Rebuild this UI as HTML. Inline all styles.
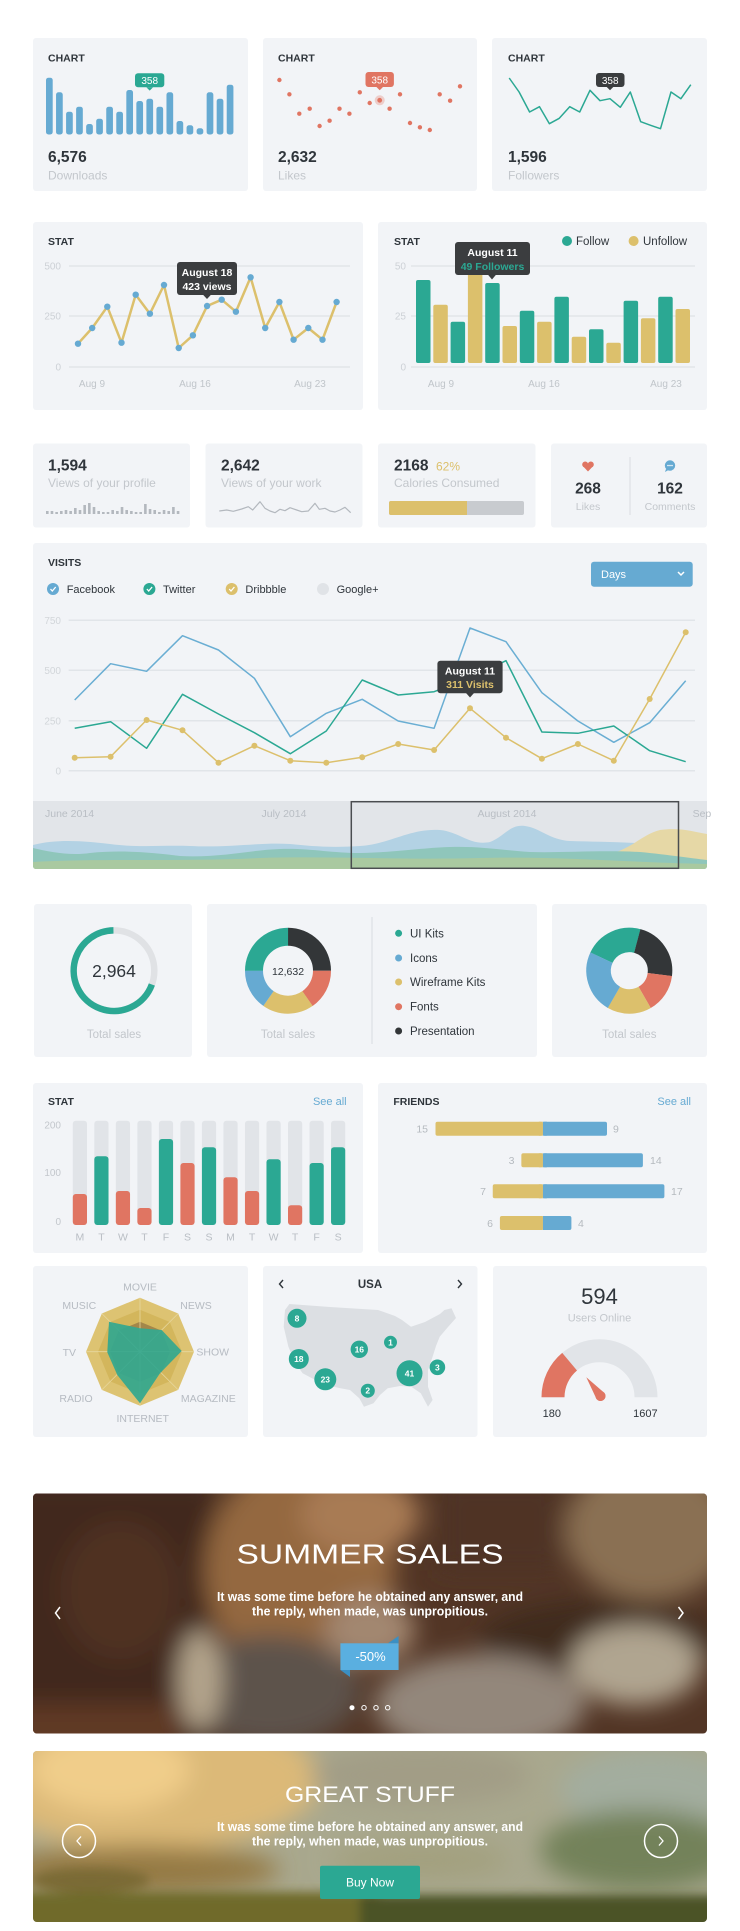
<!DOCTYPE html>
<html><head><meta charset="utf-8">
<style>
html,body{margin:0;padding:0;background:#fff;}
svg{display:block;}
text{font-family:"Liberation Sans",sans-serif;}
</style></head><body>
<svg width="740" height="1931" viewBox="0 0 740 1931" xmlns="http://www.w3.org/2000/svg">
<defs>
 <filter id="bl" x="-50%" y="-50%" width="200%" height="200%"><feGaussianBlur stdDeviation="12"/></filter>
 <filter id="bl2" x="-50%" y="-50%" width="200%" height="200%"><feGaussianBlur stdDeviation="5"/></filter>
 <clipPath id="cb1"><rect x="33" y="1493.5" width="674" height="240" rx="4"/></clipPath>
 <clipPath id="cb2"><rect x="33" y="1751" width="674" height="171" rx="4"/></clipPath>
 <clipPath id="cv"><rect x="33" y="543" width="674" height="326" rx="3"/></clipPath>
</defs>

<!-- ============ CARDS ============ -->
<g fill="#f2f4f7">
 <rect x="33" y="38" width="215" height="153" rx="3"/>
 <rect x="263" y="38" width="214" height="153" rx="3"/>
 <rect x="492" y="38" width="215" height="153" rx="3"/>
 <rect x="33" y="222" width="330" height="188" rx="3"/>
 <rect x="378" y="222" width="329" height="188" rx="3"/>
 <rect x="33" y="443.5" width="157" height="84" rx="3"/>
 <rect x="205.5" y="443.5" width="157" height="84" rx="3"/>
 <rect x="378" y="443.5" width="157.5" height="84" rx="3"/>
 <rect x="551" y="443.5" width="156" height="84" rx="3"/>
 <rect x="33" y="543" width="674" height="326" rx="3"/>
 <rect x="34" y="904" width="158" height="153" rx="3"/>
 <rect x="207" y="904" width="330" height="153" rx="3"/>
 <rect x="552" y="904" width="155" height="153" rx="3"/>
 <rect x="33" y="1083" width="330" height="170" rx="3"/>
 <rect x="378" y="1083" width="329" height="170" rx="3"/>
 <rect x="33" y="1266" width="215" height="171" rx="3"/>
 <rect x="263" y="1266" width="214.5" height="171" rx="3"/>
 <rect x="493" y="1266" width="214" height="171" rx="3"/>
</g>

<!-- ============ ROW 1 ============ -->
<g font-size="10.5" font-weight="bold" fill="#2f353b">
 <text x="48" y="61.5">CHART</text>
 <text x="278" y="61.5">CHART</text>
 <text x="508" y="61.5">CHART</text>
</g>
<g fill="#66aad2">
 <rect x="46" y="77.7" width="6.7" height="56.8" rx="2.5"/>
 <rect x="56.04" y="92.3" width="6.7" height="42.2" rx="2.5"/>
 <rect x="66.08" y="111.7" width="6.7" height="22.8" rx="2.5"/>
 <rect x="76.12" y="106.7" width="6.7" height="27.8" rx="2.5"/>
 <rect x="86.16" y="124" width="6.7" height="10.5" rx="2.5"/>
 <rect x="96.2" y="118.7" width="6.7" height="15.8" rx="2.5"/>
 <rect x="106.24" y="106.7" width="6.7" height="27.8" rx="2.5"/>
 <rect x="116.28" y="111.7" width="6.7" height="22.8" rx="2.5"/>
 <rect x="126.32" y="90" width="6.7" height="44.5" rx="2.5"/>
 <rect x="136.36" y="101" width="6.7" height="33.5" rx="2.5"/>
 <rect x="146.4" y="98.7" width="6.7" height="35.8" rx="2.5"/>
 <rect x="156.44" y="106.7" width="6.7" height="27.8" rx="2.5"/>
 <rect x="166.48" y="92.3" width="6.7" height="42.2" rx="2.5"/>
 <rect x="176.52" y="121" width="6.7" height="13.5" rx="2.5"/>
 <rect x="186.56" y="125.3" width="6.7" height="9.2" rx="2.5"/>
 <rect x="196.6" y="128.3" width="6.7" height="6.2" rx="2.5"/>
 <rect x="206.64" y="92.3" width="6.7" height="42.2" rx="2.5"/>
 <rect x="216.68" y="98.7" width="6.7" height="35.8" rx="2.5"/>
 <rect x="226.72" y="84.7" width="6.7" height="49.8" rx="2.5"/>
</g>
<rect x="135" y="73.3" width="29.3" height="14" rx="3" fill="#2ba893"/>
<path d="M146.3 87.2 L153.1 87.2 L149.7 90.6 Z" fill="#2ba893"/>
<text x="149.7" y="84" font-size="10" fill="#fff" text-anchor="middle">358</text>

<g fill="#e07562">
 <circle cx="379.7" cy="100.3" r="5" opacity="0.3"/>
 <circle cx="279.4" cy="80" r="2.2"/><circle cx="289.4" cy="94.3" r="2.2"/><circle cx="299.3" cy="113.7" r="2.2"/>
 <circle cx="309.7" cy="108.7" r="2.2"/><circle cx="319.6" cy="126" r="2.2"/><circle cx="329.6" cy="120.7" r="2.2"/>
 <circle cx="339.5" cy="108.7" r="2.2"/><circle cx="349.4" cy="113.7" r="2.2"/><circle cx="359.8" cy="92.3" r="2.2"/>
 <circle cx="369.7" cy="103" r="2.2"/><circle cx="379.7" cy="100.3" r="2.4"/><circle cx="389.6" cy="108.7" r="2.2"/>
 <circle cx="400" cy="94.3" r="2.2"/><circle cx="410" cy="123" r="2.2"/><circle cx="419.9" cy="127.3" r="2.2"/>
 <circle cx="429.8" cy="130" r="2.2"/><circle cx="439.7" cy="94.3" r="2.2"/><circle cx="450.1" cy="100.7" r="2.2"/>
 <circle cx="460" cy="86.3" r="2.2"/>
</g>
<rect x="365.5" y="72" width="28.4" height="15" rx="3" fill="#e07562"/>
<path d="M376.3 86.9 L383.1 86.9 L379.7 90.3 Z" fill="#e07562"/>
<text x="379.7" y="83.3" font-size="10" fill="#fff" text-anchor="middle">358</text>

<polyline fill="none" stroke="#2ba893" stroke-width="1.5" stroke-linejoin="round" points="509.2,78 519.1,92 529.6,112 539.5,106.7 549.4,123.7 559.3,118.3 569.7,106.7 579.7,112 590,90.3 600,100.7 610,98.7 620.3,107.3 630.3,92 640.7,121.7 650.6,125.3 660.5,128.7 671,92 680.9,98.7 690.8,84.7"/>
<rect x="596" y="73" width="28.5" height="14" rx="3" fill="#3b3d3f"/>
<path d="M606.6 86.9 L613.4 86.9 L610 90.3 Z" fill="#3b3d3f"/>
<text x="610.2" y="83.8" font-size="10" fill="#fff" text-anchor="middle">358</text>

<g font-size="15.5" font-weight="bold" fill="#2f353b">
 <text x="48" y="162">6,576</text>
 <text x="278" y="162">2,632</text>
 <text x="508" y="162">1,596</text>
</g>
<g font-size="12" fill="#c3c7cc">
 <text x="48" y="179.5">Downloads</text>
 <text x="278" y="179.5">Likes</text>
 <text x="508" y="179.5">Followers</text>
</g>

<!-- ============ ROW 2 LEFT ============ -->
<text x="48" y="245" font-size="10.5" font-weight="bold" fill="#2f353b">STAT</text>
<g stroke="#e1e5e9" stroke-width="1.5">
 <line x1="69" y1="266" x2="350" y2="266"/><line x1="69" y1="316" x2="350" y2="316"/><line x1="69" y1="367" x2="350" y2="367"/>
 <line x1="411" y1="266" x2="695" y2="266"/><line x1="411" y1="316" x2="695" y2="316"/><line x1="411" y1="367" x2="695" y2="367"/>
</g>
<g font-size="10" fill="#cdd1d6" text-anchor="end">
 <text x="61" y="269.5">500</text><text x="61" y="319.5">250</text><text x="61" y="370.5">0</text>
 <text x="406" y="269.5">50</text><text x="406" y="319.5">25</text><text x="406" y="370.5">0</text>
</g>
<g font-size="10" fill="#c0c5ca" text-anchor="middle">
 <text x="92" y="387">Aug 9</text><text x="195" y="387">Aug 16</text><text x="310" y="387">Aug 23</text>
 <text x="441" y="387">Aug 9</text><text x="544" y="387">Aug 16</text><text x="666" y="387">Aug 23</text>
</g>
<polyline fill="none" stroke="#dcc06c" stroke-width="2.5" stroke-linejoin="round" points="78,343.7 92.2,328 107.3,306.7 121.5,342.7 135.7,294.7 149.9,313.7 164,285 178.7,348 192.9,335.3 207.1,306 221.7,299.7 235.9,311.7 250.6,277.3 265.2,328 279.4,302 293.6,339.7 308.3,328 322.5,339.7 336.6,302"/>
<g fill="#66aad2">
 <circle cx="78" cy="343.7" r="3.2"/><circle cx="92.2" cy="328" r="3.2"/><circle cx="107.3" cy="306.7" r="3.2"/>
 <circle cx="121.5" cy="342.7" r="3.2"/><circle cx="135.7" cy="294.7" r="3.2"/><circle cx="149.9" cy="313.7" r="3.2"/>
 <circle cx="164" cy="285" r="3.2"/><circle cx="178.7" cy="348" r="3.2"/><circle cx="192.9" cy="335.3" r="3.2"/>
 <circle cx="207.1" cy="306" r="3.2"/><circle cx="221.7" cy="299.7" r="3.2"/><circle cx="235.9" cy="311.7" r="3.2"/>
 <circle cx="250.6" cy="277.3" r="3.2"/><circle cx="265.2" cy="328" r="3.2"/><circle cx="279.4" cy="302" r="3.2"/>
 <circle cx="293.6" cy="339.7" r="3.2"/><circle cx="308.3" cy="328" r="3.2"/><circle cx="322.5" cy="339.7" r="3.2"/>
 <circle cx="336.6" cy="302" r="3.2"/>
</g>
<rect x="177" y="262" width="60" height="33" rx="3" fill="#3b3d3f"/>
<path d="M203 294.8 L211 294.8 L207 299 Z" fill="#3b3d3f"/>
<text x="207" y="276" font-size="10.5" font-weight="bold" fill="#fff" text-anchor="middle">August 18</text>
<text x="207" y="290" font-size="10.5" font-weight="bold" fill="#fff" text-anchor="middle">423 views</text>

<!-- ============ ROW 2 RIGHT ============ -->
<text x="394" y="245" font-size="10.5" font-weight="bold" fill="#2f353b">STAT</text>
<circle cx="567" cy="241" r="5" fill="#2ba893"/>
<text x="576" y="245" font-size="11.5" fill="#2f353b">Follow</text>
<circle cx="633.6" cy="241" r="5" fill="#dcc06c"/>
<text x="643" y="245" font-size="11.5" fill="#2f353b">Unfollow</text>
<g>
 <rect x="416" y="280" width="14.5" height="83" rx="2" fill="#2ba893"/>
 <rect x="433.3" y="304.7" width="14.5" height="58.3" rx="2" fill="#dcc06c"/>
 <rect x="450.6" y="321.7" width="14.5" height="41.3" rx="2" fill="#2ba893"/>
 <rect x="467.9" y="262" width="14.5" height="101" rx="2" fill="#dcc06c"/>
 <rect x="485.2" y="283" width="14.5" height="80" rx="2" fill="#2ba893"/>
 <rect x="502.5" y="326" width="14.5" height="37" rx="2" fill="#dcc06c"/>
 <rect x="519.8" y="310.7" width="14.5" height="52.3" rx="2" fill="#2ba893"/>
 <rect x="537.1" y="321.7" width="14.5" height="41.3" rx="2" fill="#dcc06c"/>
 <rect x="554.4" y="296.7" width="14.5" height="66.3" rx="2" fill="#2ba893"/>
 <rect x="571.7" y="336.7" width="14.5" height="26.3" rx="2" fill="#dcc06c"/>
 <rect x="589" y="329.3" width="14.5" height="33.7" rx="2" fill="#2ba893"/>
 <rect x="606.3" y="342.7" width="14.5" height="20.3" rx="2" fill="#dcc06c"/>
 <rect x="623.6" y="300.7" width="14.5" height="62.3" rx="2" fill="#2ba893"/>
 <rect x="640.9" y="318.3" width="14.5" height="44.7" rx="2" fill="#dcc06c"/>
 <rect x="658.2" y="296.7" width="14.5" height="66.3" rx="2" fill="#2ba893"/>
 <rect x="675.5" y="309" width="14.5" height="54" rx="2" fill="#dcc06c"/>
</g>
<rect x="455" y="242" width="75" height="33" rx="3" fill="#3b3d3f"/>
<path d="M488 274.8 L496 274.8 L492 279.5 Z" fill="#3b3d3f"/>
<text x="492.5" y="256" font-size="10.5" font-weight="bold" fill="#fff" text-anchor="middle">August 11</text>
<text x="492.5" y="270" font-size="10.5" font-weight="bold" fill="#2ba893" text-anchor="middle">49 Followers</text>

<!-- ============ ROW 3 ============ -->
<g font-size="15.5" font-weight="bold" fill="#2f353b">
 <text x="48" y="470.5">1,594</text>
 <text x="221" y="470.5">2,642</text>
 <text x="394" y="470.5">2168</text>
 <text x="588" y="493.5" text-anchor="middle">268</text>
 <text x="670" y="493.5" text-anchor="middle">162</text>
</g>
<text x="436" y="470.5" font-size="12" fill="#dcc06c">62%</text>
<g font-size="12" fill="#c3c7cc">
 <text x="48" y="487">Views of your profile</text>
 <text x="221" y="487">Views of your work</text>
 <text x="394" y="487">Calories Consumed</text>
</g>
<g font-size="10.5" fill="#c3c7cc" text-anchor="middle">
 <text x="588" y="510">Likes</text>
 <text x="670" y="510">Comments</text>
</g>
<g fill="#b3b8be">
 <rect x="46" y="511" width="2.6" height="3"/><rect x="50.67" y="511" width="2.6" height="3"/><rect x="55.34" y="512" width="2.6" height="2"/>
 <rect x="60.01" y="511" width="2.6" height="3"/><rect x="64.68" y="510" width="2.6" height="4"/><rect x="69.35" y="511" width="2.6" height="3"/>
 <rect x="74.02" y="508" width="2.6" height="6"/><rect x="78.69" y="510" width="2.6" height="4"/><rect x="83.36" y="505" width="2.6" height="9"/>
 <rect x="88.03" y="503" width="2.6" height="11"/><rect x="92.7" y="507" width="2.6" height="7"/><rect x="97.37" y="511" width="2.6" height="3"/>
 <rect x="102.04" y="512" width="2.6" height="2"/><rect x="106.71" y="512" width="2.6" height="2"/><rect x="111.38" y="510" width="2.6" height="4"/>
 <rect x="116.05" y="511" width="2.6" height="3"/><rect x="120.72" y="507" width="2.6" height="7"/><rect x="125.39" y="510" width="2.6" height="4"/>
 <rect x="130.06" y="511" width="2.6" height="3"/><rect x="134.73" y="512" width="2.6" height="2"/><rect x="139.4" y="512" width="2.6" height="2"/>
 <rect x="144.07" y="504" width="2.6" height="10"/><rect x="148.74" y="509" width="2.6" height="5"/><rect x="153.41" y="510" width="2.6" height="4"/>
 <rect x="158.08" y="512" width="2.6" height="2"/><rect x="162.75" y="510" width="2.6" height="4"/><rect x="167.42" y="511" width="2.6" height="3"/>
 <rect x="172.09" y="507" width="2.6" height="7"/><rect x="176.76" y="511" width="2.6" height="3"/>
</g>
<polyline fill="none" stroke="#b3b8be" stroke-width="1.2" stroke-linejoin="round" points="219.3,511 226.7,510 233.3,511.3 241.7,509 248.3,506.7 252.7,510 260,501.7 265,508.3 270,511 275,512.7 280,509.3 285,510.7 290,507.7 296.7,510 301.7,511.7 308.3,511 315,503.3 319.3,509.3 325,508.3 330,511 335,512 340,510 345,507.3 350.7,512.7"/>
<rect x="389" y="501" width="135" height="14" rx="2" fill="#c8cbcf"/>
<rect x="389" y="501" width="78" height="14" rx="2" fill="#dcc06c"/>
<rect x="463" y="501" width="4" height="14" fill="#dcc06c"/>
<line x1="630" y1="457" x2="630" y2="515" stroke="#dde1e5" stroke-width="1.2"/>
<g fill="#e07562">
 <circle cx="585.2" cy="464.5" r="3"/><circle cx="590.8" cy="464.5" r="3"/>
 <path d="M582.3 465.5 L593.7 465.5 L588 471.5 Z"/>
</g>
<circle cx="670" cy="465.5" r="5.2" fill="#66aad2"/>
<path d="M666 469 L665 472 L668.5 470 Z" fill="#66aad2"/>
<g fill="#fff"><circle cx="668" cy="465.5" r="0.8"/><circle cx="670" cy="465.5" r="0.8"/><circle cx="672" cy="465.5" r="0.8"/></g>

<!-- ============ VISITS ============ -->
<text x="48" y="566" font-size="10.5" font-weight="bold" fill="#2f353b">VISITS</text>
<circle cx="53" cy="589" r="6" fill="#66aad2"/>
<circle cx="149.4" cy="589" r="6" fill="#2ba893"/>
<circle cx="231.7" cy="589" r="6" fill="#dcc06c"/>
<circle cx="323" cy="589" r="6" fill="#e0e3e7"/>
<g fill="none" stroke="#fff" stroke-width="1.3">
 <path d="M50.5 589 L52.3 591 L55.7 587"/>
 <path d="M146.9 589 L148.7 591 L152.1 587"/>
 <path d="M229.2 589 L231 591 L234.4 587"/>
</g>
<g font-size="11" fill="#2f353b">
 <text x="66.7" y="593">Facebook</text>
 <text x="163" y="593">Twitter</text>
 <text x="245.4" y="593">Dribbble</text>
 <text x="336.6" y="593">Google+</text>
</g>
<rect x="591" y="561.7" width="101.7" height="25" rx="3" fill="#66aad2"/>
<text x="601" y="578" font-size="11" fill="#fff">Days</text>
<polyline points="678,572 681,575 684,572" fill="none" stroke="#fff" stroke-width="1.5"/>
<g stroke="#e1e5e9" stroke-width="1.5">
 <line x1="68.6" y1="620.3" x2="695" y2="620.3"/><line x1="68.6" y1="670.3" x2="695" y2="670.3"/>
 <line x1="68.6" y1="720.7" x2="695" y2="720.7"/><line x1="68.6" y1="770.7" x2="695" y2="770.7"/>
</g>
<g font-size="10" fill="#d2d6da" text-anchor="end">
 <text x="61" y="624">750</text><text x="61" y="674">500</text><text x="61" y="724.5">250</text><text x="61" y="774.5">0</text>
</g>
<polyline fill="none" stroke="#6aaed3" stroke-width="1.5" stroke-linejoin="round" points="74.7,700 110.6,663.7 146.6,671.3 182.5,635.7 218.5,650 254.4,678.3 290.3,736.7 326.3,713.3 362.2,699.3 398.2,721 434.1,728.3 470,628 506,641.7 541.9,692.7 577.9,721 613.8,742.3 649.7,722.7 685.7,680.7"/>
<polyline fill="none" stroke="#2ba893" stroke-width="1.5" stroke-linejoin="round" points="74.7,728.3 110.6,721.7 146.6,748.3 182.5,694.3 218.5,714 254.4,732.7 290.3,753.7 326.3,731 362.2,680 398.2,695 434.1,691.7 470,678 506,660.7 541.9,732 577.9,733.3 613.8,726 649.7,750.7 685.7,761.7"/>
<polyline fill="none" stroke="#dcc06c" stroke-width="1.5" stroke-linejoin="round" points="74.7,757.7 110.6,756.7 146.6,720 182.5,730.3 218.5,762.7 254.4,745.7 290.3,760.7 326.3,762.7 362.2,757.3 398.2,744 434.1,750 470,708.3 506,737.7 541.9,758.7 577.9,744 613.8,760.7 649.7,699 685.7,632.3"/>
<g fill="#dcc06c">
 <circle cx="74.7" cy="757.7" r="3"/><circle cx="110.6" cy="756.7" r="3"/><circle cx="146.6" cy="720" r="3"/>
 <circle cx="182.5" cy="730.3" r="3"/><circle cx="218.5" cy="762.7" r="3"/><circle cx="254.4" cy="745.7" r="3"/>
 <circle cx="290.3" cy="760.7" r="3"/><circle cx="326.3" cy="762.7" r="3"/><circle cx="362.2" cy="757.3" r="3"/>
 <circle cx="398.2" cy="744" r="3"/><circle cx="434.1" cy="750" r="3"/><circle cx="470" cy="708.3" r="3"/>
 <circle cx="506" cy="737.7" r="3"/><circle cx="541.9" cy="758.7" r="3"/><circle cx="577.9" cy="744" r="3"/>
 <circle cx="613.8" cy="760.7" r="3"/><circle cx="649.7" cy="699" r="3"/><circle cx="685.7" cy="632.3" r="3"/>
</g>
<rect x="437.4" y="660.7" width="65.2" height="32.6" rx="3" fill="#3b3d3f"/>
<path d="M466 693 L474 693 L470 697.5 Z" fill="#3b3d3f"/>
<text x="470" y="674.5" font-size="10.5" font-weight="bold" fill="#fff" text-anchor="middle">August 11</text>
<text x="470" y="688" font-size="10.5" font-weight="bold" fill="#dcc06c" text-anchor="middle">311 Visits</text>

<g clip-path="url(#cv)">
 <rect x="33" y="801" width="674" height="68" fill="#e2e5e9"/>
 <path d="M33,845 C60,838 90,842 110,844 C140,848 160,845 190,846 C230,848 260,842 290,844 C310,846 330,848 360,846 C390,844 410,828 440,830 C460,832 470,846 490,842 C505,836 510,824 525,826 C540,828 550,840 570,841 C600,842 640,842 680,846 L707,848 L707,869 L33,869 Z" fill="#b3d2e4"/>
 <path d="M33,860 C200,858 400,862 600,856 C630,852 640,835 660,830 C680,827 695,832 707,834 L707,869 L33,869 Z" fill="#e6d8a6"/>
 <path d="M33,848 C50,852 70,856 90,853 C120,850 150,852 180,856 C220,858 250,850 280,849 C310,848 330,853 360,853 C400,852 420,848 450,847 C480,846 500,850 530,852 C560,853 600,850 640,852 C670,855 690,858 707,860 L707,869 L33,869 Z" fill="#8fc6bb"/>
 <path d="M33,862 C100,858 180,862 260,858 C330,856 400,860 480,858 C560,856 620,862 707,864 L707,869 L33,869 Z" fill="#a9c9a0"/>
</g>
<g font-size="10.5" fill="#b9bec4">
 <text x="45" y="817">June 2014</text>
 <text x="261.5" y="817">July 2014</text>
 <text x="477.5" y="817">August 2014</text>
 <text x="692.6" y="817">Sep</text>
</g>
<rect x="351.3" y="801.7" width="327.2" height="66.6" fill="none" stroke="#4a4d50" stroke-width="1.5"/>

<!-- ============ DONUTS ============ -->
<circle cx="114" cy="970.7" r="40.3" fill="none" stroke="#e0e2e5" stroke-width="6.5"/>
<circle cx="114" cy="970.7" r="40.3" fill="none" stroke="#2ba893" stroke-width="6.5" stroke-dasharray="175 300" transform="rotate(20 114 970.7)"/>
<text x="114" y="977" font-size="17.5" fill="#2f353b" text-anchor="middle">2,964</text>
<g font-size="11.5" fill="#c3c7cc" text-anchor="middle">
 <text x="114" y="1038">Total sales</text>
 <text x="288" y="1038">Total sales</text>
 <text x="629.3" y="1038">Total sales</text>
</g>
<g fill="none" stroke-width="18">
 <circle cx="288" cy="970.7" r="34" stroke="#333638" stroke-dasharray="53.41 300" transform="rotate(-90 288 970.7)"/>
 <circle cx="288" cy="970.7" r="34" stroke="#e07562" stroke-dasharray="32.64 300" transform="rotate(0 288 970.7)"/>
 <circle cx="288" cy="970.7" r="34" stroke="#dcc06c" stroke-dasharray="41.54 300" transform="rotate(55 288 970.7)"/>
 <circle cx="288" cy="970.7" r="34" stroke="#66aad2" stroke-dasharray="32.64 300" transform="rotate(125 288 970.7)"/>
 <circle cx="288" cy="970.7" r="34" stroke="#2ba893" stroke-dasharray="53.41 300" transform="rotate(180 288 970.7)"/>
</g>
<text x="288" y="975" font-size="10.5" fill="#2f353b" text-anchor="middle">12,632</text>
<line x1="372" y1="917" x2="372" y2="1044" stroke="#dde1e5" stroke-width="1.2"/>
<circle cx="398.6" cy="933.3" r="3.5" fill="#2ba893"/>
<circle cx="398.6" cy="958" r="3.5" fill="#66aad2"/>
<circle cx="398.6" cy="982" r="3.5" fill="#dcc06c"/>
<circle cx="398.6" cy="1006.7" r="3.5" fill="#e07562"/>
<circle cx="398.6" cy="1031" r="3.5" fill="#333638"/>
<g font-size="11.5" fill="#2f353b">
 <text x="410" y="937.3">UI Kits</text>
 <text x="410" y="962">Icons</text>
 <text x="410" y="986">Wireframe Kits</text>
 <text x="410" y="1010.7">Fonts</text>
 <text x="410" y="1035">Presentation</text>
</g>
<g fill="none" stroke-width="24.5">
 <circle cx="629.3" cy="970.7" r="30.75" stroke="#2ba893" stroke-dasharray="42.93 300" transform="rotate(-155 629.3 970.7)"/>
 <circle cx="629.3" cy="970.7" r="30.75" stroke="#333638" stroke-dasharray="44.01 300" transform="rotate(-75 629.3 970.7)"/>
 <circle cx="629.3" cy="970.7" r="30.75" stroke="#e07562" stroke-dasharray="28.45 300" transform="rotate(7 629.3 970.7)"/>
 <circle cx="629.3" cy="970.7" r="30.75" stroke="#dcc06c" stroke-dasharray="32.2 300" transform="rotate(60 629.3 970.7)"/>
 <circle cx="629.3" cy="970.7" r="30.75" stroke="#66aad2" stroke-dasharray="45.62 300" transform="rotate(120 629.3 970.7)"/>
</g>

<!-- ============ STAT BARS ============ -->
<text x="48" y="1105" font-size="10.5" font-weight="bold" fill="#2f353b">STAT</text>
<text x="346.6" y="1105" font-size="11" fill="#66aad2" text-anchor="end">See all</text>
<g font-size="10" fill="#c3c7cc" text-anchor="end">
 <text x="61" y="1128.5">200</text><text x="61" y="1176">100</text><text x="61" y="1225">0</text>
</g>
<g fill="#e1e4e8">
 <rect x="72.8" y="1120.7" width="14.2" height="104.3" rx="3"/><rect x="94.32" y="1120.7" width="14.2" height="104.3" rx="3"/>
 <rect x="115.84" y="1120.7" width="14.2" height="104.3" rx="3"/><rect x="137.36" y="1120.7" width="14.2" height="104.3" rx="3"/>
 <rect x="158.88" y="1120.7" width="14.2" height="104.3" rx="3"/><rect x="180.4" y="1120.7" width="14.2" height="104.3" rx="3"/>
 <rect x="201.92" y="1120.7" width="14.2" height="104.3" rx="3"/><rect x="223.44" y="1120.7" width="14.2" height="104.3" rx="3"/>
 <rect x="244.96" y="1120.7" width="14.2" height="104.3" rx="3"/><rect x="266.48" y="1120.7" width="14.2" height="104.3" rx="3"/>
 <rect x="288" y="1120.7" width="14.2" height="104.3" rx="3"/><rect x="309.52" y="1120.7" width="14.2" height="104.3" rx="3"/>
 <rect x="331.04" y="1120.7" width="14.2" height="104.3" rx="3"/>
</g>
<rect x="72.8" y="1194" width="14.2" height="31" rx="3" fill="#e07562"/>
<rect x="94.32" y="1156.3" width="14.2" height="68.7" rx="3" fill="#2ba893"/>
<rect x="115.84" y="1191" width="14.2" height="34" rx="3" fill="#e07562"/>
<rect x="137.36" y="1208" width="14.2" height="17" rx="3" fill="#e07562"/>
<rect x="158.88" y="1139" width="14.2" height="86" rx="3" fill="#2ba893"/>
<rect x="180.4" y="1163" width="14.2" height="62" rx="3" fill="#e07562"/>
<rect x="201.92" y="1147.3" width="14.2" height="77.7" rx="3" fill="#2ba893"/>
<rect x="223.44" y="1177.3" width="14.2" height="47.7" rx="3" fill="#e07562"/>
<rect x="244.96" y="1191" width="14.2" height="34" rx="3" fill="#e07562"/>
<rect x="266.48" y="1159.3" width="14.2" height="65.7" rx="3" fill="#2ba893"/>
<rect x="288" y="1205.3" width="14.2" height="19.7" rx="3" fill="#e07562"/>
<rect x="309.52" y="1163" width="14.2" height="62" rx="3" fill="#2ba893"/>
<rect x="331.04" y="1147.3" width="14.2" height="77.7" rx="3" fill="#2ba893"/>
<g font-size="10.5" fill="#b9bec4" text-anchor="middle">
 <text x="79.9" y="1240.5">M</text><text x="101.4" y="1240.5">T</text><text x="122.9" y="1240.5">W</text>
 <text x="144.5" y="1240.5">T</text><text x="166" y="1240.5">F</text><text x="187.5" y="1240.5">S</text>
 <text x="209" y="1240.5">S</text><text x="230.5" y="1240.5">M</text><text x="252.1" y="1240.5">T</text>
 <text x="273.6" y="1240.5">W</text><text x="295.1" y="1240.5">T</text><text x="316.6" y="1240.5">F</text>
 <text x="338.1" y="1240.5">S</text>
</g>

<!-- ============ FRIENDS ============ -->
<text x="393.4" y="1105" font-size="10.5" font-weight="bold" fill="#2f353b">FRIENDS</text>
<text x="691" y="1105" font-size="11" fill="#66aad2" text-anchor="end">See all</text>
<g fill="#66aad2">
 <rect x="542.8" y="1121.7" width="64.2" height="14" rx="2"/>
 <rect x="542.8" y="1153.3" width="100.1" height="14" rx="2"/>
 <rect x="542.8" y="1184.3" width="121.6" height="14" rx="2"/>
 <rect x="542.8" y="1216" width="28.6" height="14" rx="2"/>
 <rect x="542.8" y="1121.7" width="4" height="14"/><rect x="542.8" y="1153.3" width="4" height="14"/>
 <rect x="542.8" y="1184.3" width="4" height="14"/><rect x="542.8" y="1216" width="4" height="14"/>
</g>
<g fill="#dcc06c">
 <rect x="435.5" y="1121.7" width="107.3" height="14" rx="2"/>
 <rect x="521.35" y="1153.3" width="21.45" height="14" rx="2"/>
 <rect x="492.75" y="1184.3" width="50.05" height="14" rx="2"/>
 <rect x="499.9" y="1216" width="42.9" height="14" rx="2"/>
 <rect x="538.8" y="1121.7" width="4" height="14"/><rect x="538.8" y="1153.3" width="4" height="14"/>
 <rect x="538.8" y="1184.3" width="4" height="14"/><rect x="538.8" y="1216" width="4" height="14"/>
</g>
<g font-size="10.5" fill="#b5babf">
 <text x="428" y="1132.5" text-anchor="end">15</text><text x="613" y="1132.5">9</text>
 <text x="514.5" y="1164" text-anchor="end">3</text><text x="650" y="1164">14</text>
 <text x="486" y="1195" text-anchor="end">7</text><text x="671" y="1195">17</text>
 <text x="493" y="1227" text-anchor="end">6</text><text x="578" y="1227">4</text>
</g>

<!-- ============ RADAR ============ -->
<polygon points="140,1297.7 178.18,1313.52 194,1351.7 178.18,1389.88 140,1405.7 101.82,1389.88 86,1351.7 101.82,1313.52" fill="#ddc372"/>
<polygon points="140,1309.7 169.7,1322 182,1351.7 169.7,1381.4 140,1393.7 110.3,1381.4 98,1351.7 110.3,1322" fill="#d3b65c"/>
<polygon points="140,1321.7 161.21,1330.49 170,1351.7 161.21,1372.91 140,1381.7 118.79,1372.91 110,1351.7 118.79,1330.49" fill="#a3874a"/>
<g stroke="#e7d79e" stroke-width="0.8">
 <line x1="140" y1="1351.7" x2="140" y2="1297.7"/><line x1="140" y1="1351.7" x2="178.18" y2="1313.52"/>
 <line x1="140" y1="1351.7" x2="194" y2="1351.7"/><line x1="140" y1="1351.7" x2="178.18" y2="1389.88"/>
 <line x1="140" y1="1351.7" x2="140" y2="1405.7"/><line x1="140" y1="1351.7" x2="101.82" y2="1389.88"/>
 <line x1="140" y1="1351.7" x2="86" y2="1351.7"/><line x1="140" y1="1351.7" x2="101.82" y2="1313.52"/>
</g>
<polygon points="109,1321.7 140,1328.3 161.7,1330 181.7,1351 160,1373.3 140,1403.3 117.3,1375 107.3,1352.3" fill="#34a88f" opacity="0.93"/>
<g font-size="10.5" fill="#b6bbc2" text-anchor="middle">
 <text x="140" y="1290.5">MOVIE</text>
 <text x="79.3" y="1309">MUSIC</text>
 <text x="196" y="1309">NEWS</text>
 <text x="69.3" y="1356">TV</text>
 <text x="212.7" y="1355.5">SHOW</text>
 <text x="76" y="1402">RADIO</text>
 <text x="208.3" y="1402">MAGAZINE</text>
 <text x="142.7" y="1422">INTERNET</text>
</g>

<!-- ============ MAP ============ -->
<polyline points="283,1280 279.5,1284 283,1288" fill="none" stroke="#2f353b" stroke-width="1.4"/>
<polyline points="458,1280 461.5,1284 458,1288" fill="none" stroke="#2f353b" stroke-width="1.4"/>
<text x="370" y="1288" font-size="11.5" font-weight="bold" fill="#2f353b" text-anchor="middle">USA</text>
<path d="M289.4,1304 L330,1307 L378,1310 L395,1316 L402,1320 L411,1326.7 L425,1322 L440,1314 L444.4,1310 L451.5,1308.3 L456,1318 L448,1327 L439.7,1336.7 L436,1346 L432.6,1356.7 L428,1370 L428,1386.7 L432.6,1400 L428,1406.7 L420.8,1393.3 L411.3,1386.7 L400,1386 L387.7,1388.3 L380,1395 L373.5,1403.3 L364,1406.7 L359.3,1398.3 L350,1390 L340.4,1388.3 L326,1385 L312,1378.3 L302.6,1373.3 L295.5,1363.3 L288.4,1346.7 L283.7,1326.7 L285,1310 Z" fill="#dcdfe3"/>
<g fill="#2ba893">
 <circle cx="297" cy="1318.3" r="9.5"/><circle cx="298.8" cy="1359" r="10"/><circle cx="325.3" cy="1379.3" r="11"/>
 <circle cx="359.3" cy="1349.3" r="8.7"/><circle cx="390.5" cy="1342.3" r="6.5"/><circle cx="367.8" cy="1390.7" r="7"/>
 <circle cx="409.5" cy="1373.3" r="13"/><circle cx="437.4" cy="1367.3" r="7.8"/>
</g>
<g font-size="8.5" font-weight="bold" fill="#fff" text-anchor="middle">
 <text x="297" y="1321.3">8</text><text x="298.8" y="1362">18</text><text x="325.3" y="1382.3">23</text>
 <text x="359.3" y="1352.3">16</text><text x="390.5" y="1345.3">1</text><text x="367.8" y="1393.7">2</text>
 <text x="409.5" y="1376.3">41</text><text x="437.4" y="1370.3">3</text>
</g>

<!-- ============ GAUGE ============ -->
<text x="599.5" y="1304" font-size="22" fill="#2f353b" text-anchor="middle">594</text>
<text x="599.5" y="1321.5" font-size="11" fill="#c3c7cc" text-anchor="middle">Users Online</text>
<path d="M553 1397.3 A46.5 46.5 0 0 1 646 1397.3" fill="none" stroke="#e1e4e8" stroke-width="23"/>
<path d="M553 1397.3 A46.5 46.5 0 0 1 569.6 1361.7" fill="none" stroke="#e07562" stroke-width="23"/>
<path d="M586.3 1377.3 L604.5 1393 A5 5 0 0 1 596.5 1399 Z" fill="#e07562"/>
<circle cx="600.5" cy="1396" r="5" fill="#e07562"/>
<text x="551.8" y="1417" font-size="11" fill="#2f353b" text-anchor="middle">180</text>
<text x="645.4" y="1417" font-size="11" fill="#2f353b" text-anchor="middle">1607</text>

<!-- ============ BANNER 1 ============ -->
<g clip-path="url(#cb1)">
 <rect x="33" y="1493.5" width="674" height="240" fill="#5e3d2b"/>
 <g filter="url(#bl)">
  <rect x="10" y="1480" width="205" height="270" fill="#4b2d20"/>
  <ellipse cx="120" cy="1590" rx="60" ry="70" fill="#5a3828"/>
  <ellipse cx="300" cy="1570" rx="95" ry="110" fill="#a9774a"/>
  <ellipse cx="360" cy="1515" rx="60" ry="40" fill="#c08c60"/>
  <rect x="440" y="1480" width="120" height="90" fill="#5a3b29"/>
  <ellipse cx="650" cy="1530" rx="85" ry="70" fill="#9e805f"/>
  <ellipse cx="600" cy="1640" rx="120" ry="40" fill="#4a3123"/>
  <ellipse cx="370" cy="1630" rx="45" ry="35" fill="#b99a80"/>
  <ellipse cx="270" cy="1690" rx="90" ry="55" fill="#6b5e56"/>
  <ellipse cx="200" cy="1680" rx="22" ry="50" fill="#cdbca0"/>
  <ellipse cx="480" cy="1705" rx="105" ry="50" fill="#a89a8c"/>
  <ellipse cx="635" cy="1665" rx="65" ry="40" fill="#c9bca4"/>
  <rect x="10" y="1705" width="170" height="50" fill="#6e4229"/>
 </g>
 <rect x="33" y="1493.5" width="674" height="240" fill="#000" opacity="0.12"/>
</g>
<text x="370" y="1563.5" font-size="28" fill="#fff" text-anchor="middle" textLength="267" lengthAdjust="spacingAndGlyphs">SUMMER SALES</text>
<text x="370" y="1601" font-size="13" font-weight="bold" fill="#fff" text-anchor="middle" textLength="306" lengthAdjust="spacingAndGlyphs">It was some time before he obtained any answer, and</text>
<text x="370" y="1615.5" font-size="13" font-weight="bold" fill="#fff" text-anchor="middle" textLength="236" lengthAdjust="spacingAndGlyphs">the reply, when made, was unpropitious.</text>
<polyline points="60,1607 55.5,1613 60,1619" fill="none" stroke="#fff" stroke-width="1.5"/>
<polyline points="678.5,1607 683,1613 678.5,1619" fill="none" stroke="#fff" stroke-width="1.5"/>
<path d="M388 1643.3 L398.6 1636 L398.6 1643.3 Z" fill="#3b8fc2"/>
<path d="M340.4 1670 L350 1677 L350 1670 Z" fill="#3b8fc2"/>
<rect x="340.4" y="1643.3" width="58.2" height="26.7" fill="#5aafe0"/>
<text x="370.5" y="1661" font-size="13" fill="#fff" text-anchor="middle">-50%</text>
<circle cx="352" cy="1707.7" r="2.5" fill="#fff"/>
<g fill="none" stroke="#fff" stroke-width="1"><circle cx="364" cy="1707.7" r="2.2"/><circle cx="376" cy="1707.7" r="2.2"/><circle cx="387.7" cy="1707.7" r="2.2"/></g>

<!-- ============ BANNER 2 ============ -->
<g clip-path="url(#cb2)">
 <rect x="33" y="1751" width="674" height="171" fill="#a9a88e"/>
 <g filter="url(#bl)">
  <ellipse cx="150" cy="1780" rx="170" ry="70" fill="#dcb978"/>
  <ellipse cx="110" cy="1770" rx="80" ry="40" fill="#f0cd8a"/>
  <ellipse cx="420" cy="1775" rx="110" ry="30" fill="#a29d86"/>
  <ellipse cx="650" cy="1790" rx="90" ry="40" fill="#a3ad9f"/>
  <ellipse cx="640" cy="1850" rx="100" ry="40" fill="#73825a"/>
  <ellipse cx="140" cy="1870" rx="140" ry="25" fill="#957a44"/>
  <ellipse cx="420" cy="1860" rx="90" ry="20" fill="#a3a07f"/>
 </g>
 <g filter="url(#bl2)">
  <rect x="20" y="1892" width="360" height="40" fill="#6f6a2c"/>
  <rect x="360" y="1895" width="360" height="40" fill="#4b5326"/>
  <ellipse cx="90" cy="1880" rx="60" ry="12" fill="#7a6a35"/>
 </g>
</g>
<text x="370" y="1802" font-size="22" fill="#fff" text-anchor="middle" textLength="170" lengthAdjust="spacingAndGlyphs">GREAT STUFF</text>
<text x="370" y="1831" font-size="13" font-weight="bold" fill="#fff" text-anchor="middle" textLength="306" lengthAdjust="spacingAndGlyphs">It was some time before he obtained any answer, and</text>
<text x="370" y="1845.5" font-size="13" font-weight="bold" fill="#fff" text-anchor="middle" textLength="236" lengthAdjust="spacingAndGlyphs">the reply, when made, was unpropitious.</text>
<circle cx="79" cy="1841" r="16.5" fill="none" stroke="#fff" stroke-width="1.5"/>
<polyline points="81,1836.5 77,1841 81,1845.5" fill="none" stroke="#fff" stroke-width="1.3"/>
<circle cx="661" cy="1841" r="16.5" fill="none" stroke="#fff" stroke-width="1.5"/>
<polyline points="659,1836.5 663,1841 659,1845.5" fill="none" stroke="#fff" stroke-width="1.3"/>
<rect x="320" y="1865.7" width="100" height="33.3" rx="2" fill="#2ba893"/>
<text x="370" y="1886.5" font-size="12" fill="#fff" text-anchor="middle">Buy Now</text>
</svg>
</body></html>
